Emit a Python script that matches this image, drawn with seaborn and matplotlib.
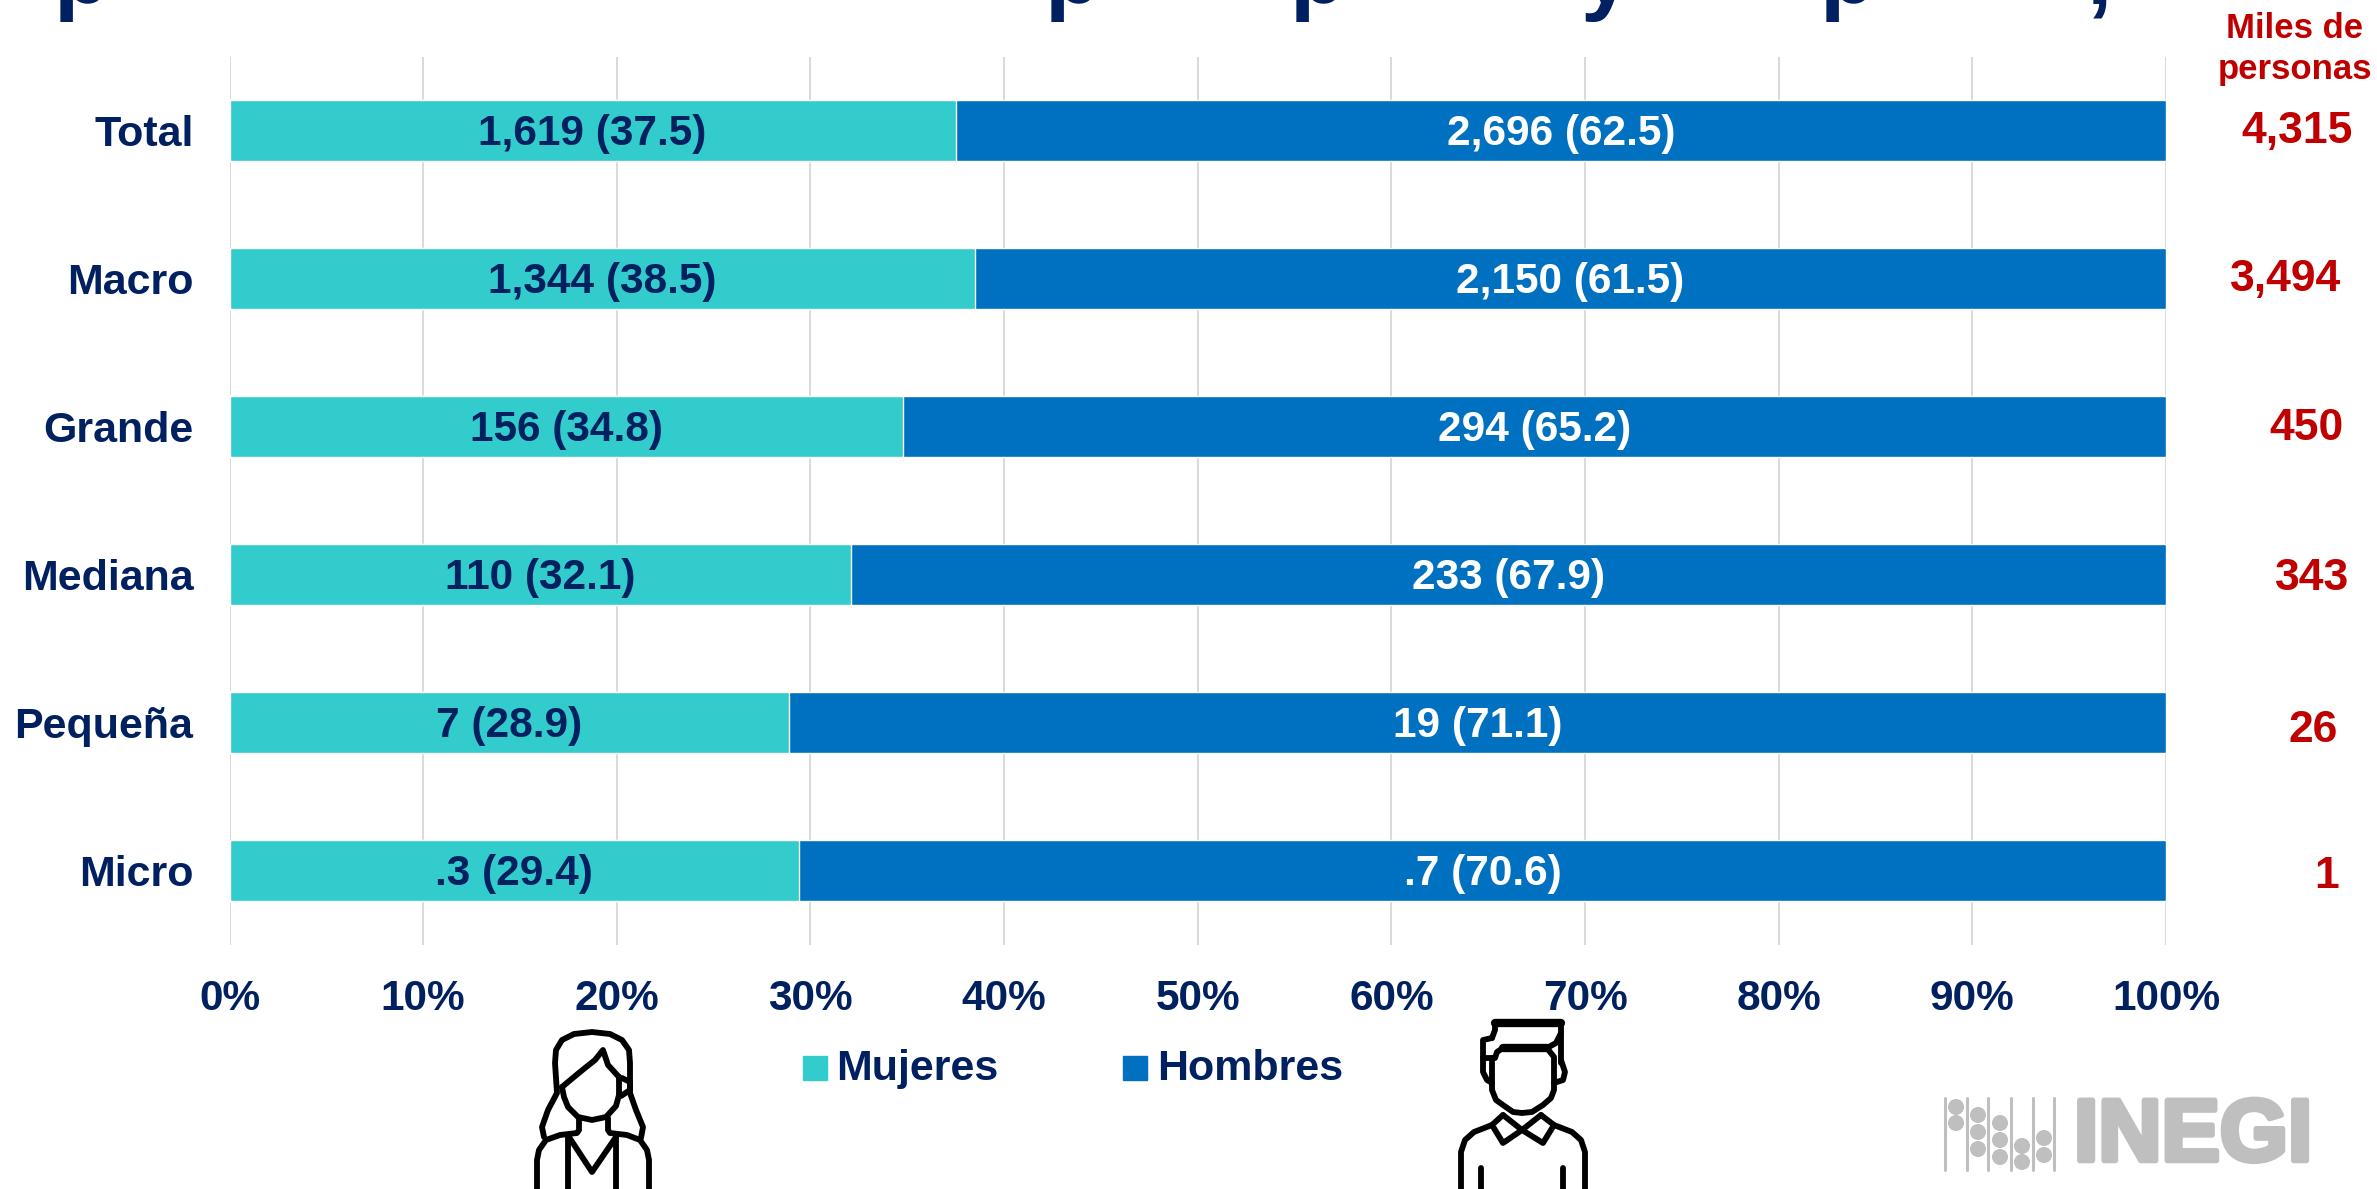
import matplotlib
matplotlib.use('Agg')
from matplotlib import pyplot as plt
from matplotlib import patheffects as pe
from matplotlib.patches import Circle, Rectangle
import pandas as pd
import seaborn as sns

categories = ['Total', 'Macro', 'Grande', 'Mediana', 'Pequeña', 'Micro']
mujeres_pct = [37.5, 38.5, 34.8, 32.1, 28.9, 29.4]
hombres_pct = [62.5, 61.5, 65.2, 67.9, 71.1, 70.6]
mujeres_lbl = ['1,619', '1,344', '156', '110', '7', '.3']
hombres_lbl = ['2,696', '2,150', '294', '233', '19', '.7']
totales = ['4,315', '3,494', '450', '343', '26', '1']
x_ticks = list(range(0, 101, 10))

NAVY = '#002060'
TEAL = '#33CCCC'
BLUE = '#0070C0'
RED = '#C00000'
GREY = '#BFBFBF'
W, H = 2377, 1189

sns.set_theme(style='white')
plt.rcParams['font.family'] = ['Liberation Sans', 'DejaVu Sans']

df = pd.DataFrame({'cat': categories, 'mujeres': mujeres_pct, 'hombres': hombres_pct})
df['total'] = df['mujeres'] + df['hombres']

fig = plt.figure(figsize=(W / 100, H / 100), dpi=100)
ax = fig.add_axes([229.5 / W, 1 - 944.5 / H, (2166 - 229.5) / W, 888 / H])
ax.xaxis.grid(True, color='#D9D9D9', lw=1.4)
ax.set_axisbelow(True)

# stacked look: full bar first, mujeres on top of it
sns.barplot(data=df, y='cat', x='total', color=BLUE, saturation=1, width=0.412, ax=ax)
sns.barplot(data=df, y='cat', x='mujeres', color=TEAL, saturation=1, width=0.412, ax=ax)

ax.set_xlim(0, 100)
ax.set_xticks(x_ticks)
ax.set_xticklabels([f'{t}%' for t in x_ticks])
ax.set_xlabel('')
ax.set_ylabel('')
ax.tick_params(axis='x', length=0, pad=25, labelsize=30.5, labelcolor=NAVY)
ax.tick_params(axis='y', length=0, pad=26, labelsize=31, labelcolor=NAVY)
for lbl in ax.get_xticklabels() + ax.get_yticklabels():
    lbl.set_fontweight('bold')
for lbl in ax.get_yticklabels():
    lbl.set_verticalalignment('center_baseline')
sns.despine(ax=ax, left=True, bottom=True)

for i, cat in enumerate(categories):
    m = mujeres_pct[i]
    h = hombres_pct[i]
    ax.text(m / 2, i + 0.025, f'{mujeres_lbl[i]} ({m})', ha='center', va='center',
            fontsize=30.5, fontweight='bold', color=NAVY)
    ax.text(m + h / 2, i + 0.025, f'{hombres_lbl[i]} ({h})', ha='center', va='center',
            fontsize=30.5, fontweight='bold', color='white')

# everything below is placed in reference pixels
over = fig.add_axes([0, 0, 1, 1])
over.set_xlim(0, W)
over.set_ylim(H, 0)
over.axis('off')
over.patch.set_alpha(0)

# the totals are loose text boxes in the reference, not aligned to the bars
total_px = [(2297, 132), (2286, 280), (2307, 429), (2312, 579), (2313, 731), (2327, 876)]
for txt, (tx, ty) in zip(totales, total_px):
    over.text(tx, ty, txt, ha='center', va='center', fontsize=32, fontweight='bold', color=RED)

over.text(2295, 49, 'Miles de\npersonas', ha='center', va='center', fontsize=25,
          fontweight='bold', color=RED, linespacing=1.32)

# only the descenders of the title survive the crop at the top edge
for ch, tx in [('p', 54), ('p', 1045), ('p', 1290), ('y', 1580), ('p', 1820), (',', 2087)]:
    over.text(tx, 3, ch, fontsize=66, fontweight='bold', color=NAVY, va='baseline', ha='left')

over.add_patch(Rectangle((803, 1056), 24, 24, color=TEAL))
over.text(836, 1069, 'Mujeres', fontsize=31, fontweight='bold', color=NAVY, va='center')
over.add_patch(Rectangle((1123, 1056), 24, 24, color=BLUE))
over.text(1157, 1069, 'Hombres', fontsize=31, fontweight='bold', color=NAVY, va='center')


def line(xs, ys, lw=4.2):
    over.plot(xs, ys, color='black', lw=lw, solid_capstyle='round', solid_joinstyle='round')


# woman icon
line([544, 542, 548, 557, 555, 556, 562, 574, 592, 610, 622, 629, 630, 630, 636, 643, 641],
     [1137, 1127, 1110, 1093, 1063, 1050, 1040, 1034, 1032, 1034, 1040, 1050, 1063, 1093, 1110, 1127, 1138])
line([562, 580, 595, 603, 608, 619], [1087, 1072, 1060, 1050, 1065, 1077])
line([562, 564, 568, 578, 592, 606, 616, 619, 619],
     [1087, 1097, 1107, 1117, 1120, 1117, 1106, 1095, 1077])
line([622, 630, 630, 621], [1078, 1082, 1090, 1096])
line([579, 579, 577, 560, 546, 539, 537, 537], [1118, 1130, 1133, 1135, 1140, 1150, 1160, 1189])
line([608, 608, 610, 627, 640, 647, 649, 649], [1118, 1130, 1133, 1135, 1140, 1150, 1160, 1189])
line([569, 592, 616], [1137, 1172, 1137])
line([568, 568], [1137, 1189])
line([616, 616], [1137, 1189])

# man icon
line([1495, 1561], [1023, 1023], lw=6)
line([1492, 1495, 1495], [1038, 1030, 1023])
line([1492, 1483, 1483, 1495, 1497, 1503, 1547, 1556, 1561, 1561],
     [1038, 1040, 1058, 1058, 1052, 1048, 1048, 1043, 1033, 1023])
line([1503, 1547], [1048, 1048], lw=6)
line([1561, 1561], [1033, 1063])
line([1492, 1492, 1496, 1503, 1513, 1522, 1532, 1543, 1551, 1554, 1554, 1547],
     [1058, 1090, 1100, 1105, 1112, 1113, 1112, 1105, 1098, 1090, 1057, 1048])
line([1483, 1483, 1487, 1492], [1058, 1072, 1080, 1083])
line([1561, 1565, 1563, 1554], [1060, 1072, 1080, 1083])
line([1503, 1492, 1503, 1522, 1543, 1554, 1541], [1115, 1125, 1143, 1130, 1143, 1125, 1115])
line([1503, 1522, 1541], [1115, 1130, 1115])
line([1492, 1474, 1465, 1461, 1461], [1125, 1132, 1140, 1152, 1189])
line([1554, 1572, 1581, 1585, 1585], [1125, 1132, 1140, 1152, 1189])
line([1481, 1481], [1168, 1189])
line([1563, 1563], [1168, 1189])

# INEGI logo
for rod_x in [1945, 1967, 1988, 2011, 2033, 2054]:
    over.plot([rod_x, rod_x], [1098, 1170], color=GREY, lw=2.2)
beads = [(1956, 1107), (1956, 1123), (1978, 1115), (1978, 1132), (1978, 1149),
         (2000, 1123), (2000, 1140), (2000, 1157), (2022, 1146), (2022, 1162),
         (2044, 1138), (2044, 1155)]
for bx, by in beads:
    over.add_patch(Circle((bx, by), 7.3, color=GREY))
over.text(2074, 1138, 'INEGI', fontsize=63, fontweight='bold', color=GREY, va='center', ha='left',
          path_effects=[pe.withStroke(linewidth=4, foreground=GREY)])

fig.savefig('out.png', dpi=100)
